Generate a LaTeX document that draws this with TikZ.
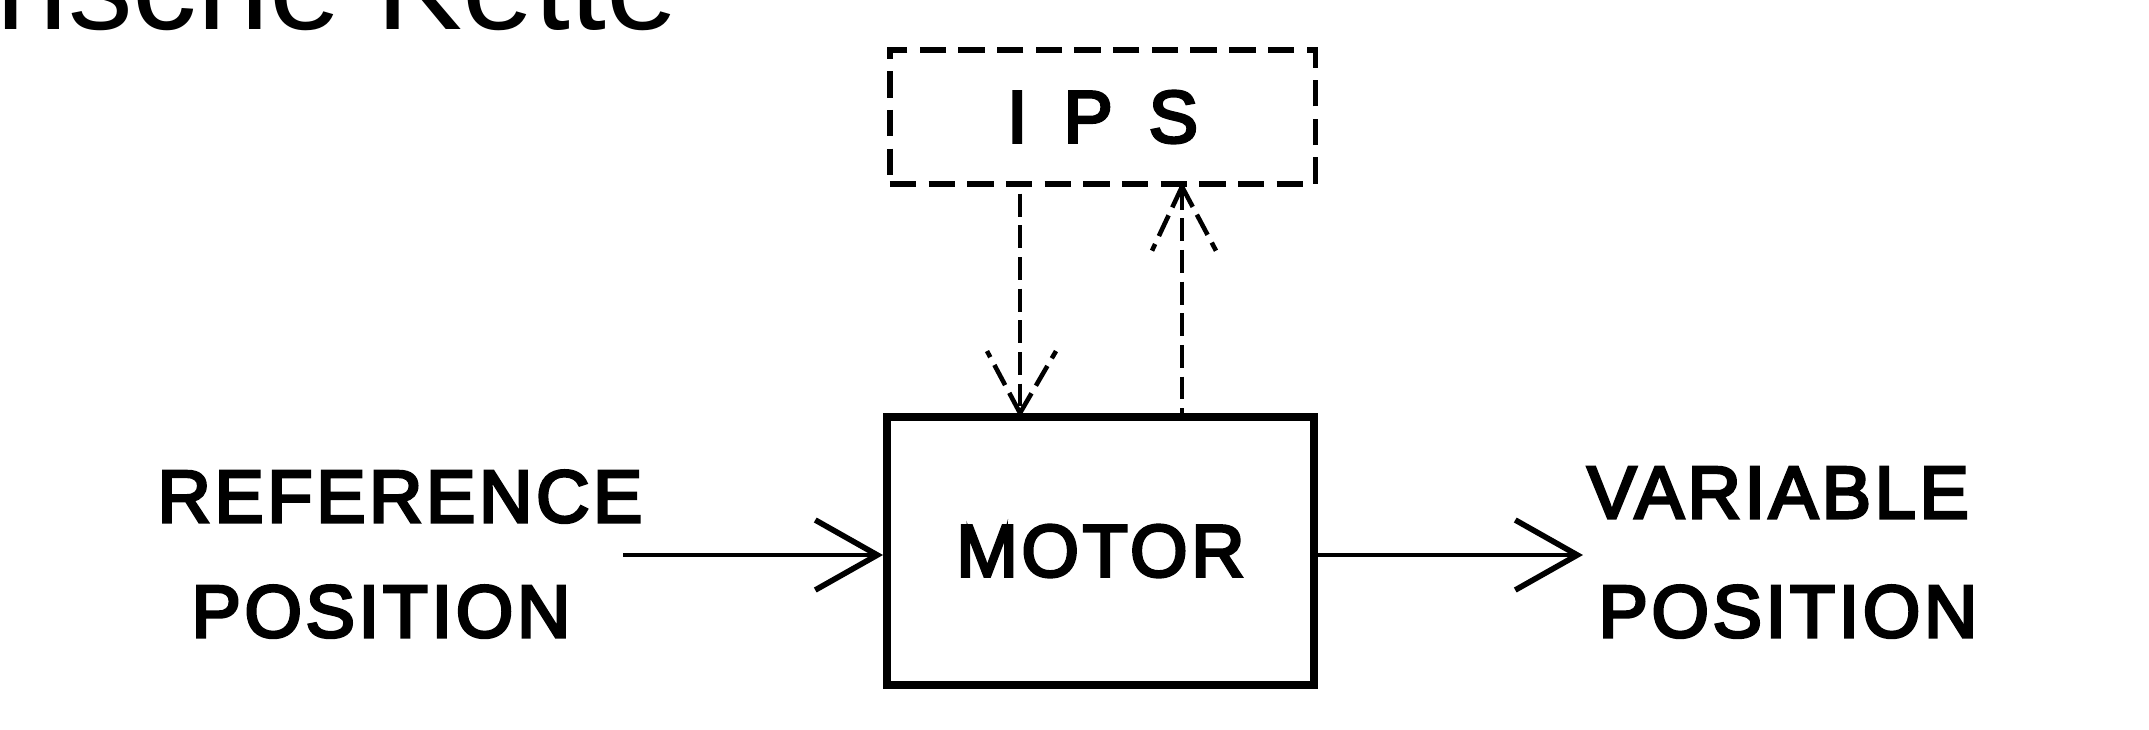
\documentclass[tikz,border=0pt]{standalone}
\usepackage{fontspec}
\setmainfont{Liberation Sans}
\newfontfamily\labfont[LetterSpace=5,FakeBold=4]{Liberation Sans}
\usetikzlibrary{arrows.meta,calc}
\begin{document}
\begin{tikzpicture}[x=0.01cm,y=-0.01cm,
  lab/.style={font=\labfont\fontsize{21}{24}\selectfont, inner sep=0pt, anchor=base},
  ipsbox/.style={draw, line width=1.5pt, dash pattern=on 7.5pt off 3.5pt,
    minimum width=4.25cm, minimum height=1.34cm, inner sep=0pt,
    font=\labfont\fontsize{21}{24}\selectfont},
  motorbox/.style={draw, line width=2.2pt, minimum width=4.27cm, minimum height=2.68cm,
    inner sep=0pt, font=\labfont\fontsize{21}{24}\selectfont},
  conn/.style={line width=1.4pt, -{Straight Barb[length=0.62cm,width=0.70cm,line width=1.6pt]}},
  dconn/.style={line width=1.3pt, dash pattern=on 6.5pt off 2.5pt}]
\useasboundingbox (0,0) rectangle (2149,729);
\clip (0,0) rectangle (2149,729);
\fill[white] (0,0) rectangle (2149,729);

\node[font=\fontsize{36.7}{40}\selectfont, anchor=base west, inner sep=0pt] (title) at (-4,29) {rische Kette};

\node[ipsbox] (ips) at (1102.5,117) {I\hspace{0.36cm}P\hspace{0.36cm}S};
\node[motorbox] (motor) at (1100.5,551) {MOTOR};

\node[lab] (ref1) at (400,522) {REFERENCE};
\node[lab] (ref2) at (381,637) {POSITION};
\node[lab] (var1) at (1778,518) {VARIABLE};
\node[lab] (var2) at (1788,637) {POSITION};

\coordinate (inS) at (623,555);
\coordinate (outE) at (1583,555);
\draw[conn] (inS) -- (inS -| motor.west);
\draw[conn] (motor.east |- outE) -- (outE);

\coordinate (dx) at (1020,0);
\coordinate (ux) at (1182,0);
% downward dashed arrow IPS -> MOTOR
\draw[dconn, dash phase=7pt] (ips.south -| dx) -- (motor.north -| dx);
\draw[dconn] (motor.north -| dx) -- ++(-33,-62);
\draw[dconn] (motor.north -| dx) -- ++(36,-62);
% upward dashed arrow MOTOR -> IPS
\draw[dconn] (ips.south -| ux) -- (motor.north -| ux);
\draw[dconn] (ips.south -| ux) -- ++(-30,64);
\draw[dconn] (ips.south -| ux) -- ++(34,64);
\end{tikzpicture}
\end{document}
